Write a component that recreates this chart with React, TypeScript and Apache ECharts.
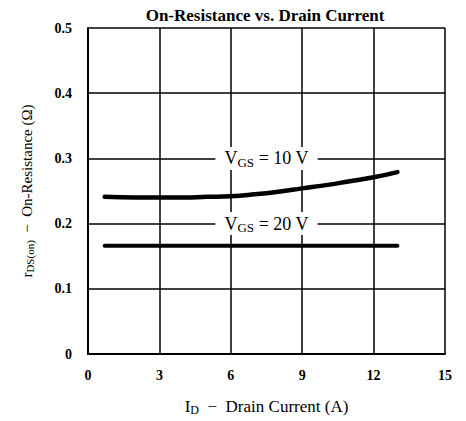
import React, { useEffect, useRef } from "react";
import * as echarts from "echarts";

const title = "On-Resistance vs. Drain Current";
const xTicks = [0, 3, 6, 9, 12, 15];
const yTicks = [0, 0.1, 0.2, 0.3, 0.4, 0.5];
const vgs10Current = [0.7, 2, 3, 4, 5, 6, 7, 8, 9, 10, 11, 12, 13];
const vgs10Resistance = [0.241, 0.24, 0.24, 0.24, 0.241, 0.242, 0.245, 0.249, 0.254, 0.259, 0.265, 0.271, 0.279];
const vgs20Current = [0.7, 13];
const vgs20Resistance = [0.166, 0.166];
const curveLabels = ["V{s|GS} = 10 V", "V{s|GS} = 20 V"];
const labelPositions = [
  [7.5, 0.3],
  [7.5, 0.2],
];

const SERIF = '"Liberation Serif", "Times New Roman", "DejaVu Serif", serif';

export default function App() {
  const ref = useRef<HTMLDivElement>(null);
  useEffect(() => {
    if (!ref.current) return;
    const chart = echarts.init(ref.current, undefined, { renderer: "svg" });
    chart.setOption({
      animation: false,
      backgroundColor: "#ffffff",
      title: {
        text: title,
        left: 260,
        top: 2,
        textAlign: "center",
        textStyle: { fontFamily: SERIF, fontSize: 17, fontWeight: "bold", color: "#000" },
      },
      grid: { left: 88, right: 21, top: 28, bottom: 65 },
      xAxis: {
        type: "value",
        min: xTicks[0],
        max: xTicks[xTicks.length - 1],
        interval: 3,
        name: "I{s|D}  −  Drain Current (A)",
        nameLocation: "middle",
        nameGap: 43,
        nameTextStyle: {
          fontFamily: SERIF,
          fontSize: 17,
          color: "#000",
          rich: { s: { fontFamily: SERIF, fontSize: 12, color: "#000", verticalAlign: "bottom", padding: [7, 0, 0, 0] } },
        },
        axisLine: { show: true, lineStyle: { color: "#000", width: 2 } },
        axisTick: { show: false },
        axisLabel: { fontFamily: SERIF, fontSize: 14, fontWeight: "bold", color: "#000", margin: 14 },
        splitLine: { show: true, lineStyle: { color: "#000", width: 1.5 } },
      },
      yAxis: {
        type: "value",
        min: yTicks[0],
        max: yTicks[yTicks.length - 1],
        interval: 0.1,
        name: "r{s|DS(on)}  −  On-Resistance (Ω)",
        nameLocation: "middle",
        nameGap: 53,
        nameTextStyle: {
          fontFamily: SERIF,
          fontSize: 15,
          color: "#000",
          rich: { s: { fontFamily: SERIF, fontSize: 11, color: "#000", verticalAlign: "bottom", padding: [6, 0, 0, 0] } },
        },
        axisLine: { show: true, lineStyle: { color: "#000", width: 2 } },
        axisTick: { show: false },
        axisLabel: {
          fontFamily: SERIF,
          fontSize: 14,
          fontWeight: "bold",
          color: "#000",
          margin: 16,
          formatter: (v: number) => (v === 0 ? "0" : v.toFixed(1)),
        },
        splitLine: { show: true, lineStyle: { color: "#000", width: 1.5 } },
      },
      series: [
        {
          type: "line",
          data: vgs10Current.map((x, i) => [x, vgs10Resistance[i]]),
          smooth: true,
          showSymbol: false,
          lineStyle: { color: "#000", width: 4.5, cap: "round" },
        },
        {
          type: "line",
          data: vgs20Current.map((x, i) => [x, vgs20Resistance[i]]),
          showSymbol: false,
          lineStyle: { color: "#000", width: 4, cap: "round" },
        },
        {
          type: "scatter",
          symbolSize: 0,
          itemStyle: { opacity: 1, color: "#000" },
          data: labelPositions.map((p, i) => ({ value: p, name: curveLabels[i] })),
          label: {
            show: true,
            position: "inside",
            formatter: (p: any) => p.name,
            fontFamily: SERIF,
            fontSize: 18,
            color: "#000",
            opacity: 1,
            backgroundColor: "#fff",
            padding: [1, 9, 1, 9],
            rich: {
              s: { fontFamily: SERIF, fontSize: 13, color: "#000", verticalAlign: "bottom", padding: [8, 0, 0, 0] },
            },
          },
          z: 5,
        },
      ],
    });
    return () => chart.dispose();
  }, []);
  return (
    <div
      ref={ref}
      style={{ position: "fixed", left: 0, top: 0, width: 466, height: 421, background: "#fff" }}
    />
  );
}
